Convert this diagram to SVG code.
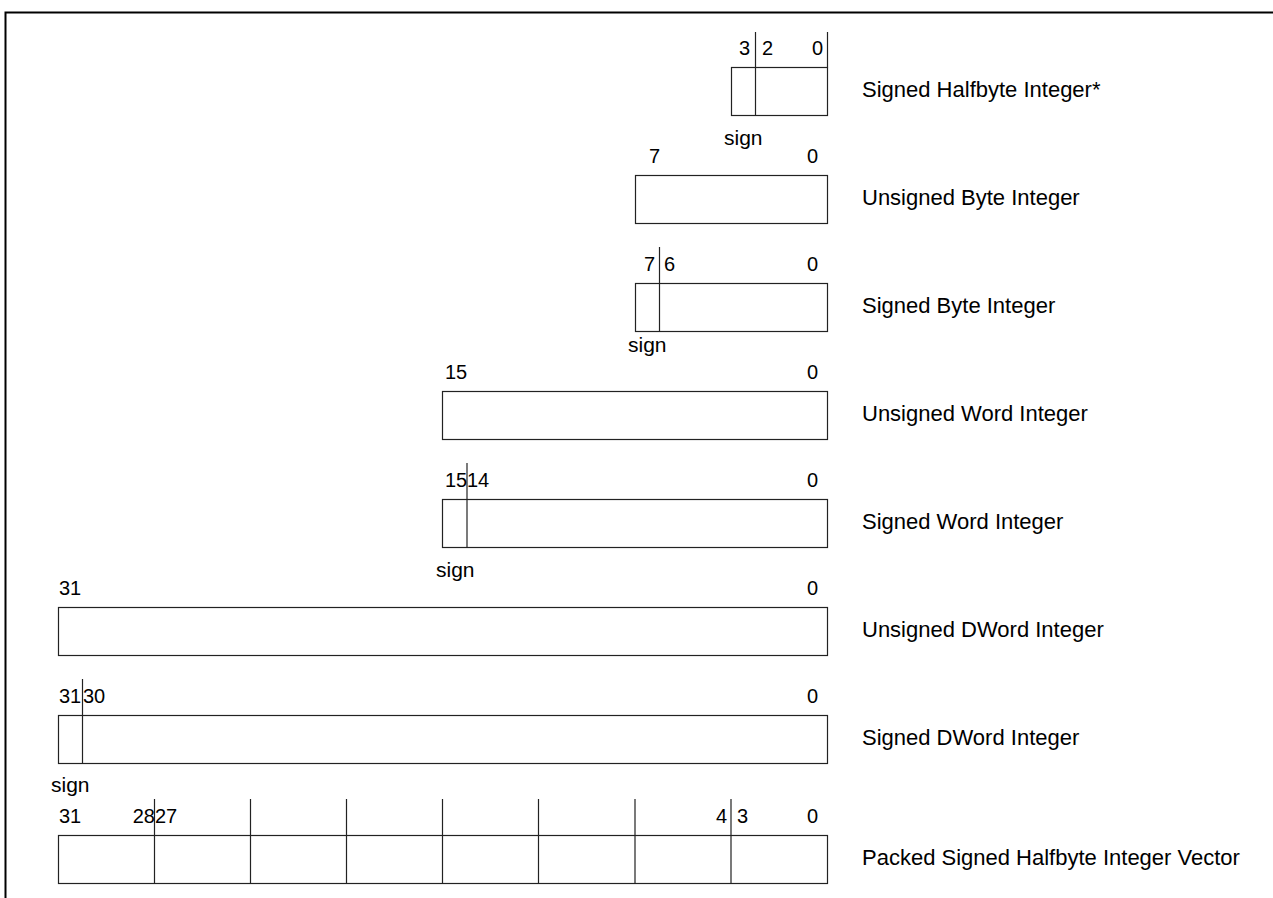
<svg xmlns="http://www.w3.org/2000/svg" width="1273" height="898" viewBox="0 0 1273 898">
<style>
text{font-family:"Liberation Sans",Arial,sans-serif;font-size:20px;fill:#000}
.s{font-size:21px}
.t{font-size:22px}
.b{fill:none;stroke:#222;stroke-width:1.2}
.l{stroke:#222;stroke-width:1.2}
.e{text-anchor:end}
</style>
<rect width="1273" height="898" fill="#fff"/>
<path d="M5.5 898V12.5H1273" fill="none" stroke="#000" stroke-width="2"/>
<g id="halfbyte">
<rect class="b" x="731.5" y="67.5" width="96" height="48"/>
<line class="l" x1="755.5" y1="32" x2="755.5" y2="115.5"/>
<line class="l" x1="827.5" y1="32" x2="827.5" y2="67.5"/>
<text class="e" x="750" y="55">3</text><text x="762" y="55">2</text><text class="e" x="823" y="55">0</text>
<text class="s" x="724" y="145">sign</text>
<text class="t" x="862" y="97">Signed Halfbyte Integer*</text>
</g>
<g id="ubyte">
<rect class="b" x="635.5" y="175.5" width="192" height="48"/>
<text x="649" y="163">7</text><text class="e" x="818" y="163">0</text>
<text class="t" x="862" y="205">Unsigned Byte Integer</text>
</g>
<g id="sbyte">
<rect class="b" x="635.5" y="283.5" width="192" height="48"/>
<line class="l" x1="659.5" y1="247" x2="659.5" y2="331.5"/>
<text class="e" x="655" y="271">7</text><text x="664" y="271">6</text><text class="e" x="818" y="271">0</text>
<text class="s" x="628" y="352">sign</text>
<text class="t" x="862" y="313">Signed Byte Integer</text>
</g>
<g id="uword">
<rect class="b" x="442.5" y="391.5" width="385" height="48"/>
<text x="445" y="379">15</text><text class="e" x="818" y="379">0</text>
<text class="t" x="862" y="421">Unsigned Word Integer</text>
</g>
<g id="sword">
<rect class="b" x="442.5" y="499.5" width="385" height="48"/>
<line class="l" x1="467" y1="463" x2="467" y2="547.5"/>
<text x="445" y="487">15</text><text x="467" y="487">14</text><text class="e" x="818" y="487">0</text>
<text class="s" x="436" y="577">sign</text>
<text class="t" x="862" y="529">Signed Word Integer</text>
</g>
<g id="udword">
<rect class="b" x="58.5" y="607.5" width="769" height="48"/>
<text x="59" y="595">31</text><text class="e" x="818" y="595">0</text>
<text class="t" x="862" y="637">Unsigned DWord Integer</text>
</g>
<g id="sdword">
<rect class="b" x="58.5" y="715.5" width="769" height="48"/>
<line class="l" x1="82.5" y1="679" x2="82.5" y2="763.5"/>
<text x="59" y="703">31</text><text x="83" y="703">30</text><text class="e" x="818" y="703">0</text>
<text class="s" x="51" y="792">sign</text>
<text class="t" x="862" y="745">Signed DWord Integer</text>
</g>
<g id="packed">
<rect class="b" x="58.5" y="835.5" width="769" height="48"/>
<path class="l" d="M154.5 799V883.5M250.5 799V883.5M346.5 799V883.5M442.5 799V883.5M538.5 799V883.5M635 799V883.5M731 799V883.5"/>
<text x="59" y="823">31</text><text class="e" x="155" y="823">28</text><text x="155" y="823">27</text>
<text class="e" x="727" y="823">4</text><text x="737" y="823">3</text><text class="e" x="818" y="823">0</text>
<text class="t" x="862" y="865">Packed Signed Halfbyte Integer Vector</text>
</g>
</svg>
